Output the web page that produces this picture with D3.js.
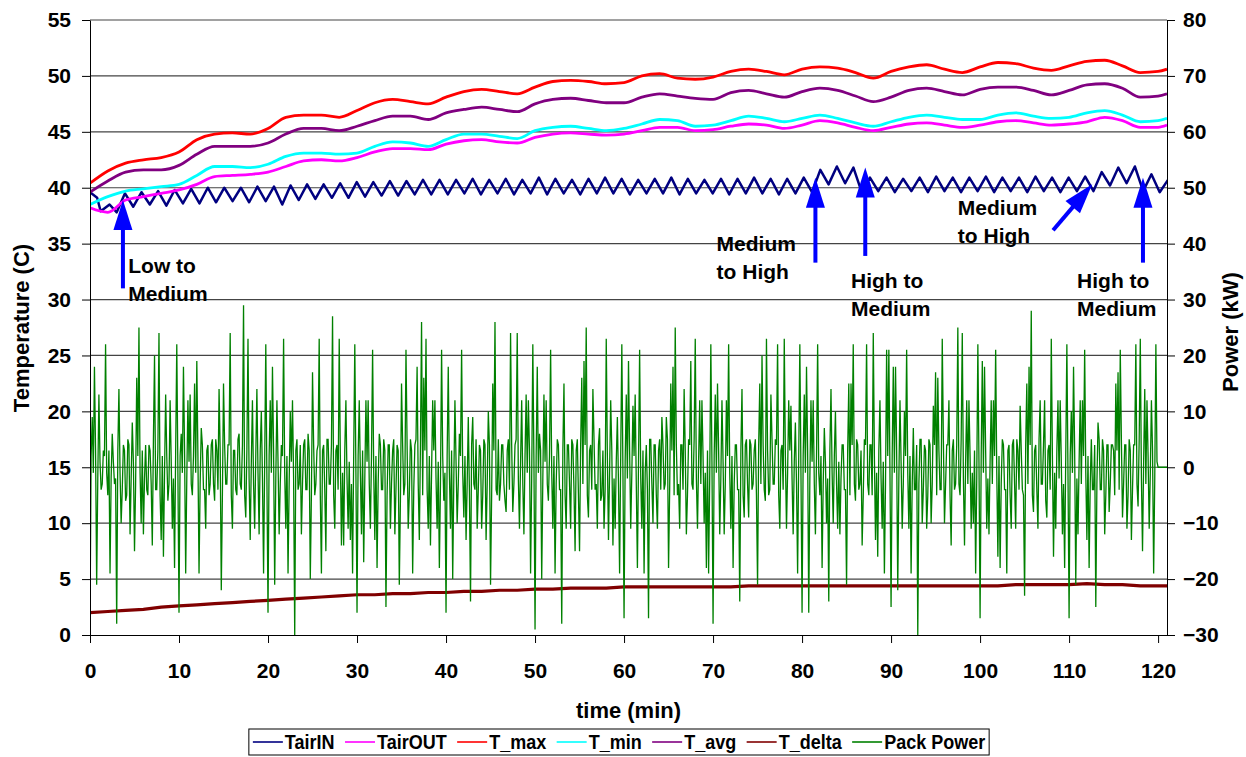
<!DOCTYPE html>
<html>
<head>
<meta charset="utf-8">
<title>Temperature and Pack Power</title>
<script src="https://d3js.org/d3.v7.min.js"></script>
<style>
  body { margin: 0; background: #fff; }
  text { font-family: "Liberation Sans", Arial, sans-serif; font-weight: bold; fill: #000; }
</style>
</head>
<body>
<div id="chart"></div>
<script>

// ---------------- data ----------------
// smooth temperature series, read every 2 min (last one at 121)
var tGrid = d3.range(0, 121, 2).concat([121]);

var tairOut = [38.2,37.8,38.9,39.2,39.5,39.8,40.3,41.0,41.1,41.2,
  41.4,41.9,42.4,42.5,42.4,42.7,43.2,43.5,43.5,43.4,
  43.9,44.2,44.3,44.1,44.0,44.5,44.8,44.9,44.8,44.7,
  44.8,45.1,45.4,45.4,45.1,45.2,45.5,45.7,45.6,45.3,
  45.6,46.0,45.8,45.4,45.1,45.4,45.7,45.8,45.6,45.4,
  45.6,45.9,46.0,45.8,45.6,45.7,45.9,46.3,46.0,45.4,
  45.4,45.6];

var tMax = [40.4,41.5,42.2,42.5,42.7,43.2,44.3,44.8,44.9,44.8,
  45.3,46.3,46.5,46.5,46.3,46.9,47.6,47.9,47.7,47.5,
  48.1,48.6,48.8,48.6,48.4,49.0,49.5,49.6,49.5,49.3,
  49.4,50.0,50.2,49.8,49.7,49.9,50.4,50.6,50.4,50.1,
  50.6,50.8,50.7,50.3,49.8,50.4,50.8,51.0,50.6,50.3,
  50.8,51.2,51.1,50.7,50.5,50.9,51.3,51.4,50.9,50.3,
  50.4,50.6];

var tMin = [38.5,39.2,39.7,39.9,40.1,40.3,41.1,41.9,41.9,41.8,
  42.1,42.8,43.1,43.1,43.0,43.1,43.7,44.1,44.0,43.7,
  44.3,44.8,44.8,44.6,44.4,45.1,45.4,45.5,45.3,45.1,
  45.3,45.7,46.1,46.0,45.5,45.6,46.0,46.4,46.2,45.9,
  46.2,46.5,46.2,45.8,45.5,45.9,46.3,46.5,46.3,46.1,
  46.1,46.5,46.7,46.4,46.2,46.3,46.7,46.9,46.5,45.9,
  46.0,46.2];

var tAvg = [39.6,40.6,41.4,41.6,41.6,42.0,43.0,43.7,43.7,43.7,
  44.0,44.8,45.3,45.3,45.1,45.5,46.0,46.4,46.4,46.1,
  46.7,47.0,47.2,47.0,46.8,47.5,47.9,48.0,47.8,47.6,
  47.6,48.1,48.4,48.2,48.0,47.9,48.5,48.7,48.4,48.1,
  48.6,48.9,48.7,48.2,47.7,48.1,48.7,48.9,48.6,48.3,
  48.8,49.0,49.0,48.7,48.3,48.7,49.2,49.3,48.9,48.1,
  48.2,48.4];

var tDelta = [2.0,2.1,2.2,2.3,2.5,2.6,2.7,2.8,2.9,3.0,
  3.1,3.2,3.3,3.4,3.5,3.6,3.6,3.7,3.7,3.8,
  3.8,3.9,3.9,4.0,4.0,4.1,4.1,4.2,4.2,4.2,
  4.3,4.3,4.3,4.3,4.3,4.3,4.3,4.4,4.4,4.4,
  4.4,4.4,4.4,4.4,4.4,4.4,4.4,4.4,4.4,4.4,
  4.4,4.4,4.5,4.5,4.5,4.5,4.6,4.5,4.5,4.4,
  4.4,4.4];

// TairIN: first few readings, then peaks / troughs every 0.93 min from t = 3.0
var tairInLeadT = [0, 0.8, 1.2, 2.2];
var tairInLead = [39.6, 39.1, 37.9, 38.5];
var tairInStart = 3.0, tairInStep = 0.93;
var tairIn = [37.8,39.5,38.3,39.6,38.5,39.7,38.4,39.8,38.6,39.9,
  38.6,40.0,38.7,40.0,38.8,40.0,38.7,40.1,38.8,40.1,
  38.5,40.2,38.9,40.3,39.0,40.3,39.1,40.4,39.1,40.5,
  39.2,40.5,39.3,40.6,39.3,40.6,39.4,40.7,39.4,40.7,
  39.4,40.7,39.5,40.8,39.4,40.7,39.5,40.8,39.4,40.7,
  39.5,40.9,39.4,40.8,39.5,40.7,39.4,40.8,39.5,40.9,
  39.5,40.8,39.4,40.7,39.5,40.8,39.5,40.9,39.4,40.8,
  39.5,40.7,39.5,40.8,39.4,40.8,39.5,40.9,39.5,40.8,
  39.4,40.8,39.5,40.9,39.6,41.6,40.3,41.9,40.4,41.8,
  39.6,40.9,39.7,40.9,39.6,40.8,39.7,40.9,39.6,41.0,
  39.7,40.9,39.6,40.9,39.7,41.0,39.6,40.9,39.7,40.9,
  39.6,41.0,39.7,40.9,39.6,40.9,39.7,41.0,39.7,41.4,
  40.2,41.8,40.4,41.9,39.7,41.2,39.6,40.7];

// Pack Power (kW), readings every 0.25 min, one row per 10 min
var powerStep = 0.25;
var packPower = [
  -28,9,18,-21,13,-4,3,22,-5,-19,6,-3,-28,14,-10,4,-6,5,-12,8,-15,16,25,-10,-12,4,-5,3,-14,20,-4,24,-13,-16,13,-6,12,-11,-18,22,
  -26,6,18,-19,12,13,-5,15,19,-19,7,-4,-11,4,-3,5,-6,3,14,-22,15,-3,4,24,-11,3,-5,6,-4,29,-9,23,-13,12,-11,14,-12,10,-19,22,
  -26,12,18,-21,12,-12,4,23,-11,-19,10,12,-30,5,-3,-12,4,-4,6,-20,17,-5,3,23,-19,4,-15,5,-3,27,-11,4,23,-14,-14,12,-11,-13,-19,22,
  -26,12,-12,-17,12,12,-11,21,-13,-18,6,-4,5,-25,4,-11,3,-12,4,-21,15,-5,21,-11,5,-19,4,18,-13,26,16,23,-11,-14,12,12,-11,-18,21,-6,
  -26,18,-11,-20,12,-10,6,21,-9,-13,9,-24,9,-4,-11,4,-11,5,-13,10,-21,15,26,-5,-6,4,-3,-8,5,24,-8,4,24,-11,12,-12,13,12,-19,22,
  -29,18,6,-20,13,12,-6,21,-11,-19,5,-4,-28,15,-11,4,-11,4,-15,5,-15,16,19,25,-9,4,14,-4,-11,7,-5,-11,23,-13,12,-14,-11,9,-19,22,
  -27,13,19,-11,11,13,-18,21,-11,-19,4,-27,5,-10,4,-11,5,9,-4,9,-18,15,18,25,-5,-11,4,14,-12,5,19,-4,23,-11,12,12,-10,-18,-19,22,
  -28,13,15,-12,12,-12,12,22,-11,-18,4,-4,-24,14,-9,5,-9,4,-3,5,-21,15,20,-4,23,-5,13,-3,5,22,-11,4,23,-11,12,11,-12,8,-19,22,
  -26,13,18,-26,12,12,-12,22,-5,-18,7,-10,-24,14,-10,10,-11,-12,4,-4,-21,15,15,22,-6,4,-3,-14,5,22,-5,4,24,-13,-16,12,-11,-19,21,21,
  -25,18,18,-22,12,-11,10,21,-11,-19,7,-4,-30,5,-10,4,-11,5,-10,11,17,16,-4,23,-10,4,12,-14,5,-3,25,-5,24,-14,12,12,-11,-10,-19,22,
  -27,19,18,-11,-12,12,12,21,-16,-18,5,-4,-19,4,-11,5,-11,3,11,-4,-23,15,18,28,-8,4,-11,12,-3,12,-9,4,23,-16,-11,12,12,-12,-18,22,
  -27,10,18,-21,-12,12,12,21,-13,-18,5,-4,-25,8,-4,5,-12,4,-8,4,3,15,17,21,-9,4,-11,5,-13,4,22,-7,23,-15,14,12,-11,12,-19,22,0,0,0,0,0
];
// Pack Power readings half-way between the ones above (the dense band near 0)
var packPowerMid = [
  2,-1,3,-2,1,-3,2,-1,3,-2,1,-2,3,-1,-4,3,-5,4,-2,1,-3,2,-1,3,-2,-4,4,-3,5,-4,3,-5,2,-1,2,-3,1,-2,3,-1,
  2,-1,3,-2,1,-3,2,-1,2,-3,4,-4,3,-5,4,-3,5,-4,3,-5,4,-3,4,-5,3,-4,5,-3,4,-5,3,-2,1,-3,2,-1,3,-2,1,-2,
  2,-1,3,-2,1,-3,2,-1,2,-3,1,-2,3,-4,4,-3,5,-4,3,-5,4,-3,4,-5,3,-4,5,-3,4,-5,3,-4,2,-1,3,-2,1,-3,2,-1,
  2,-1,3,-2,1,-3,2,-1,2,-3,4,-4,3,-5,4,-3,5,-4,3,-6,4,-3,4,-5,3,-4,5,-3,4,-5,3,-4,2,-1,3,-2,1,-3,2,-1,
  2,-1,3,-2,1,-3,2,-1,2,-3,-4,4,-3,5,-4,3,-5,4,-3,4,-5,3,-4,5,-3,4,-6,3,-4,4,-3,5,-2,1,-3,2,-1,3,-2,1,
  2,-1,3,-2,1,-3,2,-1,2,-3,4,-4,3,-5,4,-3,5,-4,3,-5,4,-3,4,-5,3,-4,5,-3,4,-6,3,-4,2,-1,3,-2,1,-3,2,-1,
  1,-2,3,-1,2,-3,1,-2,3,-1,-4,5,-3,4,-5,3,-4,4,-3,5,-4,3,-5,4,-3,4,-4,3,-5,4,-3,5,-2,1,-3,2,-1,3,-2,1,
  2,-1,3,-2,1,-3,2,-1,2,-3,4,-4,3,-5,4,-3,5,-4,3,-5,4,-3,4,-6,3,-4,5,-3,4,-5,3,-4,2,-1,3,-2,1,-3,2,-1,
  2,-1,3,-2,1,-3,2,-1,2,-3,1,-2,3,-1,2,-3,1,-2,4,-4,3,-5,4,-3,5,-4,3,-5,4,-3,4,-5,2,-1,3,-2,1,-3,2,-1,
  2,-1,3,-2,1,-3,2,-1,2,-3,-4,4,-3,5,-4,3,-5,4,-3,4,-5,3,-4,5,-3,4,-5,3,-4,4,-3,5,-2,1,-3,2,-1,3,-2,1,
  2,-1,3,-2,1,-3,2,-1,2,-3,4,-4,3,-5,4,-3,5,-4,3,-5,4,-3,4,-5,3,-4,5,-3,4,-6,3,-4,2,-1,3,-2,1,-3,2,-1,
  2,-1,3,-2,1,-3,2,-1,2,-3,-4,4,-3,5,-4,3,-5,4,-3,4,-5,3,-4,5,-3,4,-5,3,-4,4,-3,5,-2,1,-3,2,-1,3,-2,1,0,0,0,0
];

var seriesNames = ["TairIN", "TairOUT", "T_max", "T_min", "T_avg", "T_delta", "Pack Power"];
var seriesColors = ["#000080", "#ff00ff", "#ff0000", "#00ffff", "#800080", "#800000", "#008000"];

var xTicks = d3.range(0, 121, 10);
var leftTicks = d3.range(0, 56, 5);
var rightTicks = d3.range(-30, 81, 10);

// arrows: tip / tail in (min, degC), text = first baseline in (min, degC)
var annotations = [
  {lines: ["Low to", "Medium"], tip: [3.7, 38.9], tail: [3.7, 31.0], text: [4.3, 32.4]},
  {lines: ["Medium", "to High"], tip: [81.5, 40.9], tail: [81.5, 33.3], text: [70.4, 34.3]},
  {lines: ["High to", "Medium"], tip: [87.1, 41.8], tail: [87.1, 33.9], text: [85.5, 31.0]},
  {lines: ["Medium", "to High"], tip: [112.6, 40.3], tail: [108.2, 36.2], text: [97.5, 37.6]},
  {lines: ["High to", "Medium"], tip: [118.3, 40.9], tail: [118.3, 33.3], text: [110.9, 31.0]}
];

// ---------------- layout ----------------
var W = 1246, H = 757;
var plot = {left: 90, right: 1167, top: 20, bottom: 635};

var svg = d3.select("#chart").append("svg")
    .attr("width", W)
    .attr("height", H);

var x = d3.scaleLinear().domain([0, 121]).range([plot.left, plot.right]);
var yL = d3.scaleLinear().domain([0, 55]).range([plot.bottom, plot.top]);
var yR = d3.scaleLinear().domain([-30, 80]).range([plot.bottom, plot.top]);

// gridlines
svg.append("g")
  .selectAll("line")
  .data(leftTicks.filter(function(v) { return v > 0; }))
  .enter().append("line")
    .attr("x1", plot.left).attr("x2", plot.right)
    .attr("y1", function(d) { return yL(d); })
    .attr("y2", function(d) { return yL(d); })
    .attr("stroke", "#444")
    .attr("stroke-width", 1.2);

// clip
svg.append("clipPath").attr("id", "clip")
  .append("rect")
    .attr("x", plot.left).attr("y", plot.top - 4)
    .attr("width", plot.right - plot.left).attr("height", plot.bottom - plot.top + 6);

var lines = svg.append("g").attr("clip-path", "url(#clip)");

var lineL = d3.line().x(function(d) { return x(d[0]); }).y(function(d) { return yL(d[1]); });
var smoothL = d3.line().curve(d3.curveMonotoneX)
    .x(function(d) { return x(d[0]); }).y(function(d) { return yL(d[1]); });
var lineR = d3.line().x(function(d) { return x(d[0]); }).y(function(d) { return yR(d[1]); });

function onGrid(vals) { return tGrid.map(function(t, i) { return [t, vals[i]]; }); }

var tairInPts = tairInLeadT.map(function(t, i) { return [t, tairInLead[i]]; })
  .concat(tairIn.map(function(v, i) { return [tairInStart + i * tairInStep, v]; }));

var powerPts = [];
packPower.forEach(function(v, i) {
  powerPts.push([i * powerStep, v]);
  if (i < packPower.length - 1) powerPts.push([(i + 0.5) * powerStep, packPowerMid[i]]);
});

lines.append("path").datum(tairInPts)
  .attr("d", lineL).attr("fill", "none")
  .attr("stroke", seriesColors[0]).attr("stroke-width", 2.5).attr("stroke-linejoin", "round");

[[tairOut, 1], [tMax, 2], [tMin, 3], [tAvg, 4]].forEach(function(s) {
  lines.append("path").datum(onGrid(s[0]))
    .attr("d", smoothL).attr("fill", "none")
    .attr("stroke", seriesColors[s[1]]).attr("stroke-width", 2.8);
});

lines.append("path").datum(onGrid(tDelta))
  .attr("d", lineL).attr("fill", "none")
  .attr("stroke", seriesColors[5]).attr("stroke-width", 3.2);

lines.append("path").datum(powerPts)
  .attr("d", lineR).attr("fill", "none")
  .attr("stroke", seriesColors[6]).attr("stroke-width", 1.3);

// axes
function styleAxis(g) {
  g.attr("font-size", 21).attr("font-family", null);
  g.selectAll("line, path").attr("stroke", "#000");
  g.selectAll("text").attr("fill", "#000");
}

svg.append("g")
  .attr("transform", "translate(" + plot.left + ",0)")
  .call(d3.axisLeft(yL).tickValues(leftTicks).tickSize(8).tickSizeOuter(0).tickPadding(11))
  .call(styleAxis);

svg.append("g")
  .attr("transform", "translate(" + plot.right + ",0)")
  .call(d3.axisRight(yR).tickValues(rightTicks).tickSize(8).tickSizeOuter(0).tickPadding(8))
  .call(styleAxis);

svg.append("g")
  .attr("transform", "translate(0," + plot.bottom + ")")
  .call(d3.axisBottom(x).tickValues(xTicks).tickSize(8).tickSizeOuter(0).tickPadding(20))
  .call(styleAxis);

// axis titles
svg.append("text")
  .attr("transform", "translate(29,328) rotate(-90)")
  .attr("text-anchor", "middle").attr("font-size", 22)
  .text("Temperature (C)");

svg.append("text")
  .attr("transform", "translate(1238,332) rotate(-90)")
  .attr("text-anchor", "middle").attr("font-size", 22)
  .text("Power (kW)");

svg.append("text")
  .attr("x", (plot.left + plot.right) / 2).attr("y", 718)
  .attr("text-anchor", "middle").attr("font-size", 22)
  .text("time (min)");

// annotations
var blue = "#0000ff";
annotations.forEach(function(a) {
  var tx = x(a.tip[0]), ty = yL(a.tip[1]);
  var sx = x(a.tail[0]), sy = yL(a.tail[1]);
  var dx = tx - sx, dy = ty - sy, len = Math.sqrt(dx * dx + dy * dy);
  var ux = dx / len, uy = dy / len;
  var headL = 30, headW = 9.5;
  var bx = tx - ux * headL, by = ty - uy * headL;
  svg.append("line")
    .attr("x1", sx).attr("y1", sy).attr("x2", bx + ux * 2).attr("y2", by + uy * 2)
    .attr("stroke", blue).attr("stroke-width", 4);
  svg.append("polygon")
    .attr("points", [[tx, ty], [bx - uy * headW, by + ux * headW], [bx + uy * headW, by - ux * headW]].join(" "))
    .attr("fill", blue);
  var t = svg.append("text")
    .attr("x", x(a.text[0])).attr("y", yL(a.text[1]))
    .attr("font-size", 21);
  a.lines.forEach(function(s, i) {
    t.append("tspan").attr("x", x(a.text[0])).attr("dy", i === 0 ? 0 : 28).text(s);
  });
});

// legend
var legend = svg.append("g");
var box = legend.append("rect")
  .attr("fill", "#fff").attr("stroke", "#000").attr("stroke-width", 1);
var lx = 0, legY = 742, squeeze = 0.9;
seriesNames.forEach(function(name, i) {
  legend.append("line")
    .attr("x1", lx).attr("x2", lx + 30).attr("y1", legY).attr("y2", legY)
    .attr("stroke", seriesColors[i]).attr("stroke-width", 1.6);
  var tg = legend.append("g")
    .attr("transform", "translate(" + (lx + 32) + "," + (legY + 7) + ") scale(" + squeeze + ",1)");
  var tt = tg.append("text").attr("font-size", 20).text(name);
  var w = tt.node().getComputedTextLength() * squeeze;
  lx += 32 + w + (i < seriesNames.length - 1 ? 10.5 : 0);
});
box.attr("x", -4).attr("y", 729).attr("width", lx + 8).attr("height", 26);
legend.attr("transform", "translate(" + (619 - (lx + 8) / 2 + 4) + ",0)");

</script>
</body>
</html>
